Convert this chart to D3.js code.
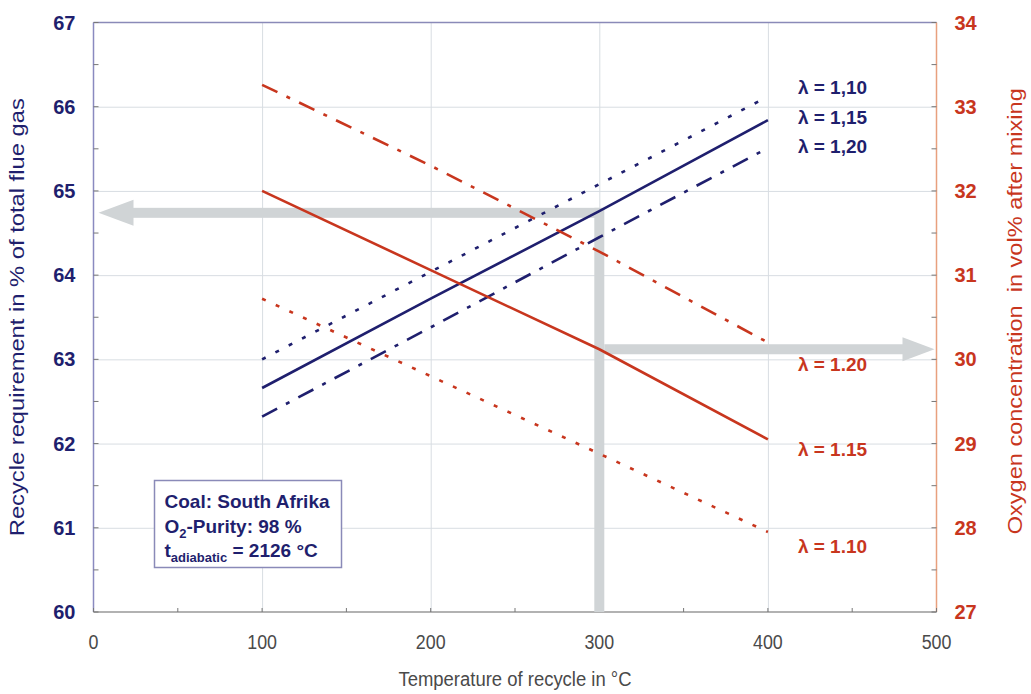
<!DOCTYPE html>
<html>
<head>
<meta charset="utf-8">
<script src="https://cdn.jsdelivr.net/npm/d3@7"></script>
<style>
  body { margin: 0; background: #fff; }
  svg { font-family: "Liberation Sans", Arial, sans-serif; }
  .grid line { stroke: #d8dde2; stroke-width: 1; }
  .grid path { display: none; }
  .tl { font-weight: bold; font-size: 20px; }
  .xl { font-size: 21px; fill: #4a4a4a; }
</style>
</head>
<body>
<div id="chart"></div>
<script>
// data
const temps = [100, 200, 300, 400];
const recycle110 = [63.00, 64.04, 65.08, 66.12];
const recycle115 = [62.66, 63.72, 64.76, 65.84];
const recycle120 = [62.32, 63.38, 64.45, 65.51];
const oxygen110 = [30.72, 29.80, 28.88, 27.95];
const oxygen115 = [32.00, 31.06, 30.12, 29.05];
const oxygen120 = [33.26, 32.30, 31.28, 30.20];
const lambdaNames = ["λ = 1,10", "λ = 1,15", "λ = 1,20"];
const lambdaNamesRed = ["λ = 1.10", "λ = 1.15", "λ = 1.20"];
const xTicks = [0, 100, 200, 300, 400, 500];
const leftTicks = [60, 61, 62, 63, 64, 65, 66, 67];
const rightTicks = [27, 28, 29, 30, 31, 32, 33, 34];
// reading example (arrows)
const readTemp = 300, readRecycle = 64.74, readOxygen = 30.12;

const W = 1031, H = 694;
const margin = {top: 22.5, right: 94.5, bottom: 82, left: 93.5};
const width = W - margin.left - margin.right;
const height = H - margin.top - margin.bottom;

const navy = "#1f1f6e", red = "#c8361e", gray = "#d0d4d6";

const svg = d3.select("#chart").append("svg")
    .attr("width", W).attr("height", H);
const chart = svg.append("g")
    .attr("transform", "translate(" + margin.left + "," + margin.top + ")");

const x = d3.scaleLinear().domain([0, 500]).range([0, width]);
const yL = d3.scaleLinear().domain([60, 67]).range([height, 0]);
const yR = d3.scaleLinear().domain([27, 34]).range([height, 0]);

// grid
chart.append("g").attr("class", "grid")
    .call(d3.axisBottom(x).tickValues([100, 200, 300, 400]).tickSize(height).tickFormat(""));
chart.append("g").attr("class", "grid")
    .call(d3.axisLeft(yL).tickValues([61, 62, 63, 64, 65, 66]).tickSize(-width).tickFormat(""));

// frame lines
chart.append("line").attr("x1", 0).attr("x2", width).attr("y1", 0).attr("y2", 0)
    .attr("stroke", "#8a8ab8").attr("stroke-width", 1.5);
chart.append("line").attr("x1", 0).attr("x2", width).attr("y1", height).attr("y2", height)
    .attr("stroke", "#666").attr("stroke-width", 1.2);
chart.append("line").attr("x1", 0).attr("x2", 0).attr("y1", 0).attr("y2", height)
    .attr("stroke", "#8a8ac0").attr("stroke-width", 1.5);
chart.append("line").attr("x1", width).attr("x2", width).attr("y1", 0).attr("y2", height)
    .attr("stroke", "#e8a07e").attr("stroke-width", 1.5);

// inner tick marks
const halfL = d3.range(60, 67.01, 0.5);
chart.selectAll(".tickL").data(halfL).enter().append("line")
    .attr("x1", 0).attr("x2", 5).attr("y1", d => yL(d)).attr("y2", d => yL(d))
    .attr("stroke", "#777");
const halfR = d3.range(27, 34.01, 0.5);
chart.selectAll(".tickR").data(halfR).enter().append("line")
    .attr("x1", width - 5).attr("x2", width).attr("y1", d => yR(d)).attr("y2", d => yR(d))
    .attr("stroke", "#777");
chart.selectAll(".tickX").data(d3.range(0, 501, 50)).enter().append("line")
    .attr("x1", d => x(d)).attr("x2", d => x(d)).attr("y1", height).attr("y2", height - 4)
    .attr("stroke", "#777");

// tick labels
chart.selectAll(".lblL").data(leftTicks).enter().append("text")
    .attr("class", "tl").attr("x", -18).attr("y", d => yL(d)).attr("dy", "0.35em")
    .attr("text-anchor", "end").attr("fill", navy).text(d => d);
chart.selectAll(".lblR").data(rightTicks).enter().append("text")
    .attr("class", "tl").attr("x", width + 18).attr("y", d => yR(d)).attr("dy", "0.35em")
    .attr("fill", red).text(d => d);
// narrow-looking x labels: squeeze horizontally
chart.selectAll(".lblX").data(xTicks).enter().append("text")
    .attr("class", "xl")
    .attr("transform", d => "translate(" + x(d) + "," + (height + 30) + ") scale(0.85,1)")
    .attr("dy", "0.35em")
    .attr("text-anchor", "middle").text(d => d);

// axis titles
svg.append("text").attr("class", "xl")
    .attr("transform", "translate(" + (margin.left + width / 2) + "," + (H - 8) + ") scale(0.88,1)")
    .attr("font-size", 22)
    .attr("text-anchor", "middle").text("Temperature of recycle in °C");
svg.append("text")
    .attr("transform", "translate(24," + (margin.top + height / 2) + ") rotate(-90)")
    .attr("text-anchor", "middle").attr("fill", navy).attr("font-size", 20)
    .attr("textLength", 438).attr("lengthAdjust", "spacingAndGlyphs")
    .text("Recycle requirement in % of total flue gas");
svg.append("text")
    .attr("transform", "translate(1022," + (margin.top + height / 2 - 6) + ") rotate(-90)")
    .attr("text-anchor", "middle").attr("fill", red).attr("font-size", 20)
    .attr("textLength", 446).attr("lengthAdjust", "spacingAndGlyphs")
    .attr("xml:space", "preserve")
    .text("Oxygen concentration  in vol% after mixing");

// reading arrows
const arrows = chart.append("g").attr("fill", gray).attr("stroke", "none");
const ax = x(readTemp), ayL = yL(readRecycle), ayR = yR(readOxygen);
arrows.append("rect").attr("x", ax - 5).attr("y", ayL - 5).attr("width", 10).attr("height", height - ayL + 5);
arrows.append("rect").attr("x", 36).attr("y", ayL - 5).attr("width", ax - 36).attr("height", 10);
arrows.append("path").attr("d", "M5," + ayL + "L40," + (ayL - 13) + "L40," + (ayL + 13) + "Z");
arrows.append("rect").attr("x", ax + 5).attr("y", ayR - 5).attr("width", width - 32 - ax - 5).attr("height", 10);
arrows.append("path").attr("d", "M" + (width - 2) + "," + ayR + "L" + (width - 34) + "," + (ayR - 12) + "L" + (width - 34) + "," + (ayR + 12) + "Z");

// lines
const lineL = d3.line().x((d, i) => x(temps[i])).y(d => yL(d));
const lineR = d3.line().x((d, i) => x(temps[i])).y(d => yR(d));
const dotted = "4,11", dashdot = "17,10,4,10";
const series = [
    {data: recycle110, line: lineL, color: navy, dash: dotted},
    {data: recycle115, line: lineL, color: navy, dash: null},
    {data: recycle120, line: lineL, color: navy, dash: dashdot},
    {data: oxygen110, line: lineR, color: red, dash: dotted},
    {data: oxygen115, line: lineR, color: red, dash: null},
    {data: oxygen120, line: lineR, color: red, dash: dashdot},
];
series.forEach(function (s) {
    chart.append("path")
        .attr("d", s.line(s.data))
        .attr("fill", "none")
        .attr("stroke", s.color)
        .attr("stroke-width", 2.6)
        .attr("stroke-dasharray", s.dash);
});

// lambda labels
const labX = x(400) + 30;
chart.selectAll(".lamB").data(lambdaNames).enter().append("text")
    .attr("x", labX).attr("y", (d, i) => 65 + i * 29.5).attr("dy", "0.35em")
    .attr("fill", navy).attr("font-weight", "bold").attr("font-size", 19).text(d => d);
const redLabelY = [524, 427, 342];
chart.selectAll(".lamR").data(lambdaNamesRed).enter().append("text")
    .attr("x", labX).attr("y", (d, i) => redLabelY[i]).attr("dy", "0.35em")
    .attr("fill", red).attr("font-weight", "bold").attr("font-size", 19).text(d => d);

// info box
const box = chart.append("g").attr("transform", "translate(61,458)");
box.append("rect").attr("width", 187).attr("height", 87)
    .attr("fill", "#fff").attr("stroke", "#8a8ab8").attr("stroke-width", 1.5);
const info = box.append("g").attr("fill", navy).attr("font-weight", "bold").attr("font-size", 19);
info.append("text").attr("x", 10).attr("y", 27).text("Coal: South Afrika");
const t2 = info.append("text").attr("x", 10).attr("y", 52);
t2.append("tspan").text("O");
t2.append("tspan").attr("font-size", 13).attr("dy", 5).text("2");
t2.append("tspan").attr("dy", -5).text("-Purity: 98 %");
const t3 = info.append("text").attr("x", 10).attr("y", 76);
t3.append("tspan").text("t");
t3.append("tspan").attr("font-size", 13).attr("dy", 5).text("adiabatic");
t3.append("tspan").attr("dy", -5).text(" = 2126 °C");
</script>
</body>
</html>
